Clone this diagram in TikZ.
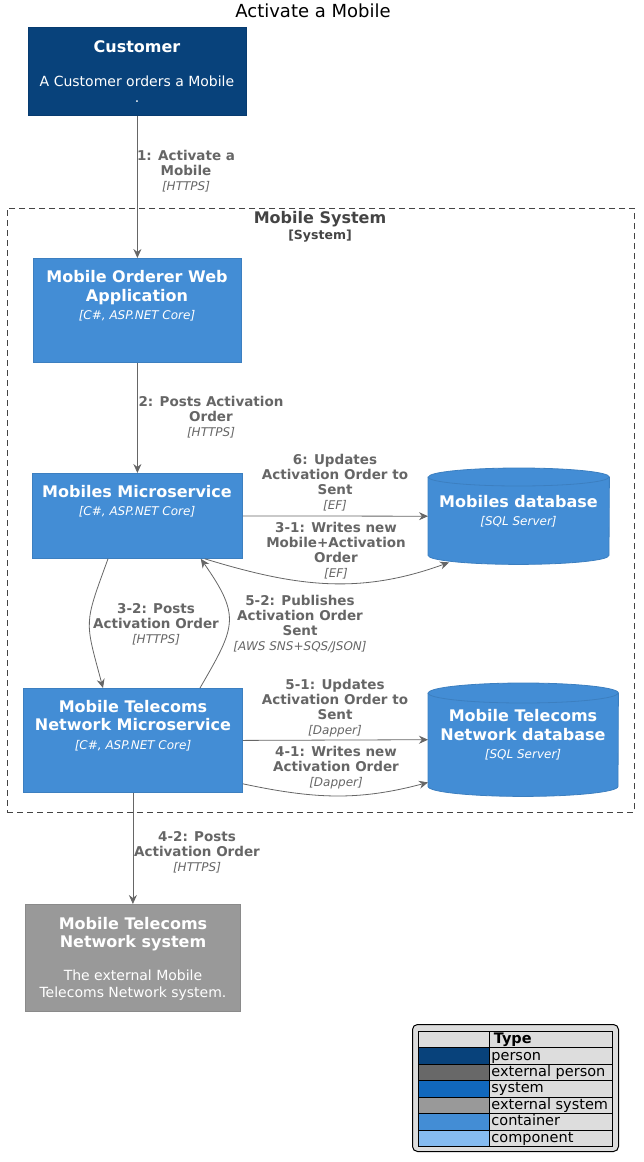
\documentclass[tikz,border=0pt]{standalone}
\usepackage{fontspec}
\setmainfont{DejaVu Sans}
\usetikzlibrary{arrows.meta,calc}
\definecolor{person}{HTML}{08427B}
\definecolor{personB}{HTML}{073B6F}
\definecolor{extperson}{HTML}{686868}
\definecolor{system}{HTML}{1168BD}
\definecolor{extsys}{HTML}{999999}
\definecolor{extsysB}{HTML}{8A8A8A}
\definecolor{cont}{HTML}{438DD5}
\definecolor{contB}{HTML}{3C7FC0}
\definecolor{comp}{HTML}{85BBF0}
\definecolor{lbl}{HTML}{666666}
\definecolor{bnd}{HTML}{444444}
\definecolor{leg}{HTML}{DDDDDD}
\newcommand\reltech[1]{{\mdseries\itshape\fontsize{12}{14}\selectfont #1}}
\newcommand\eltech[1]{{\mdseries\itshape\fontsize{12}{15}\selectfont #1}}
\begin{document}
\begin{tikzpicture}[x=1pt,y=1pt,
  elem/.style={rectangle, line width=0.8pt, inner sep=0pt, anchor=north west},
  contbox/.style={elem, draw=contB, fill=cont},
  personbox/.style={elem, draw=personB, fill=person},
  extbox/.style={elem, draw=extsysB, fill=extsys},
  dbarea/.style={rectangle, inner sep=0pt, anchor=north west},
  dbshape/.style={fill=cont, draw=contB, line width=0.8pt},
  etitle/.style={text=white, font=\bfseries\fontsize{16}{18.5}\selectfont, align=center, inner sep=0pt},
  edesc/.style={text=white, font=\fontsize{14}{16.5}\selectfont, align=center, inner sep=0pt},
  rel/.style={draw=lbl, line width=0.8pt, -{Stealth[length=9pt,width=8pt,inset=3pt]}},
  rlabel/.style={text=lbl, font=\bfseries\fontsize{13.5}{15}\selectfont, align=center, inner sep=0pt},
  legcell/.style={draw=black, line width=0.8pt, minimum width=71, minimum height=16.43, anchor=north west, inner sep=0pt},
  legtext/.style={draw=black, line width=0.8pt, fill=leg, minimum width=123, minimum height=16.43, text height=11pt, text depth=3pt, inner xsep=2pt, inner ysep=0pt, anchor=north west, font=\fontsize{14.5}{16}\selectfont}
]
\useasboundingbox (0,0) rectangle (644,-1162);

% title
\node[font=\fontsize{18}{20}\selectfont, inner sep=0pt] (title) at (313,-11) {Activate a Mobile};

% boundary
\node[draw=bnd, dashed, dash pattern=on 6pt off 4pt, line width=0.8pt, rectangle, minimum width=627, minimum height=604, anchor=north west, inner sep=0pt] (boundary) at (7,-208) {};
\node[text=bnd, font=\bfseries\fontsize{16}{18}\selectfont, inner sep=0pt] (bndtitle) at (320,-219) {Mobile System};
\node[text=bnd, font=\bfseries\fontsize{12.5}{14}\selectfont, inner sep=0pt] (bndtype) at (320,-236) {[System]};

% customer
\node[personbox, minimum width=218, minimum height=88] (cust) at (28,-27) {};
\node[etitle] (custT) at (137,-47) {Customer};
\node[edesc, anchor=north] (custD) at (137,-75.5) {A Customer orders a Mobile\\.};

% web app
\node[contbox, minimum width=208, minimum height=104] (web) at (33,-258) {};
\node[etitle] (webT) at (137,-296) {Mobile Orderer Web\\Application\\\eltech{[C\#, ASP.NET Core]}};

% mobiles microservice
\node[contbox, minimum width=210, minimum height=85] (ms) at (32,-473) {};
\node[etitle] (msT) at (137,-501) {Mobiles Microservice\\\eltech{[C\#, ASP.NET Core]}};

% mobiles database
\node[dbarea, minimum width=181, minimum height=96] (mdb) at (428,-468) {};
\path[dbshape] ([yshift=-9pt]mdb.north west) -- ([yshift=9pt]mdb.south west)
  arc[start angle=180, end angle=360, x radius=90.5pt, y radius=9pt]
  -- ([yshift=-9pt]mdb.north east)
  arc[start angle=0, end angle=180, x radius=90.5pt, y radius=9pt] -- cycle;
\draw[contB, line width=0.8pt] ([yshift=-9pt]mdb.north west) arc[start angle=180, end angle=360, x radius=90.5pt, y radius=9pt];
\node[etitle] (mdbT) at (518.5,-511) {Mobiles database\\\eltech{[SQL Server]}};

% telecoms microservice
\node[contbox, minimum width=219, minimum height=104] (tms) at (23,-688) {};
\node[etitle] (tmsT) at (133,-725.5) {Mobile Telecoms\\Network Microservice\\\eltech{[C\#, ASP.NET Core]}};

% telecoms database
\node[dbarea, minimum width=190, minimum height=113] (tdb) at (428,-683) {};
\path[dbshape] ([yshift=-10pt]tdb.north west) -- ([yshift=10pt]tdb.south west)
  arc[start angle=180, end angle=360, x radius=95pt, y radius=10pt]
  -- ([yshift=-10pt]tdb.north east)
  arc[start angle=0, end angle=180, x radius=95pt, y radius=10pt] -- cycle;
\draw[contB, line width=0.8pt] ([yshift=-10pt]tdb.north west) arc[start angle=180, end angle=360, x radius=95pt, y radius=10pt];
\node[etitle] (tdbT) at (523,-735) {Mobile Telecoms\\Network database\\\eltech{[SQL Server]}};

% external system
\node[extbox, minimum width=215, minimum height=107] (ext) at (25,-904) {};
\node[etitle] (extT) at (133,-934) {Mobile Telecoms\\Network system};
\node[edesc] (extD) at (133,-985) {The external Mobile\\Telecoms Network system.};

% relations
\draw[rel] (cust.south) -- (web.north);
\node[rlabel] (l1) at (186,-171) {1: Activate a\\Mobile\\\reltech{[HTTPS]}};

\draw[rel] (web.south) -- (ms.north);
\node[rlabel] (l2) at (211,-417) {2: Posts Activation\\Order\\\reltech{[HTTPS]}};

\draw[rel] (ms.east) -- (mdb.west);
\node[rlabel] (l6) at (335,-483) {6: Updates\\Activation Order to\\Sent\\\reltech{[EF]}};

\draw[rel] ([xshift=-38pt]ms.south east) to[out=-17, in=200] ([xshift=21pt,yshift=2pt]mdb.south west);
\node[rlabel] (l31) at (336,-550.5) {3-1: Writes new\\Mobile+Activation\\Order\\\reltech{[EF]}};

\draw[rel] ([xshift=76pt]ms.south west) to[out=-110, in=105, looseness=1.4] ([xshift=80pt]tms.north west);
\node[rlabel] (l32) at (156,-624.5) {3-2: Posts\\Activation Order\\\reltech{[HTTPS]}};

\draw[rel] ([xshift=177pt]tms.north west) to[out=60, in=-55, looseness=1.4] ([xshift=-42pt]ms.south east);
\node[rlabel] (l52) at (300,-624.5) {5-2: Publishes\\Activation Order\\Sent\\\reltech{[AWS SNS+SQS/JSON]}};

\draw[rel] (tms.east) -- (tdb.west);
\node[rlabel] (l51) at (335,-708) {5-1: Updates\\Activation Order to\\Sent\\\reltech{[Dapper]}};

\draw[rel] ([yshift=9pt]tms.south east) to[out=-12, in=195] ([yshift=14pt]tdb.south west);
\node[rlabel] (l41) at (336,-767.5) {4-1: Writes new\\Activation Order\\\reltech{[Dapper]}};

\draw[rel] (tms.south) -- (ext.north);
\node[rlabel] (l42) at (197,-852.5) {4-2: Posts\\Activation Order\\\reltech{[HTTPS]}};

% legend
\node[draw=black, line width=1pt, fill=leg, rounded corners=5pt, minimum width=206, minimum height=127, anchor=north west, inner sep=0pt] (legend) at (412,-1024) {};
\foreach \c/\t [count=\i from 0] in {leg/{\bfseries\,Type}, person/person, extperson/external person, system/system, extsys/external system, cont/container, comp/component}{
  \node[legcell, fill=\c] (lgc\i) at (418,{-1031-\i*16.43}) {};
  \node[legtext] (lgt\i) at (489,{-1031-\i*16.43}) {\makebox[119pt][l]{\t}};
}
\end{tikzpicture}
\end{document}
